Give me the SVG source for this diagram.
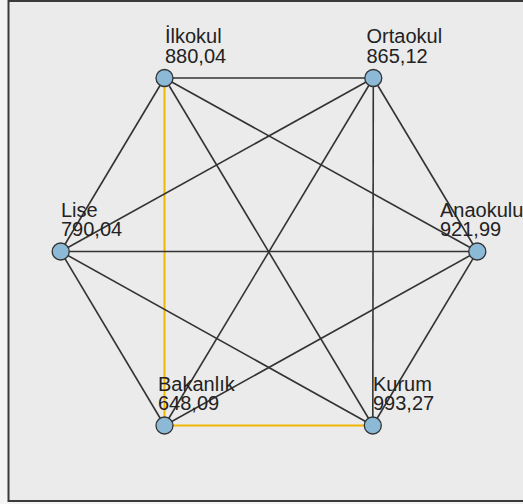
<svg xmlns="http://www.w3.org/2000/svg" width="523" height="504" viewBox="0 0 523 504">
<style>
.e{stroke:#333;stroke-width:1.6;fill:none}
.y{stroke:#f2b705;stroke-width:2;fill:none}
.n{fill:#8bb9d6;stroke:#333;stroke-width:1.3}
text{font-family:"Liberation Sans",Arial,sans-serif;font-size:20px;fill:#222}
</style>
<rect x="0" y="0" width="523" height="504" fill="#f4f4f4"/>
<rect x="8.5" y="1" width="520" height="500" fill="#ebebeb" stroke="#3a3a3a" stroke-width="2"/>
<g id="connectors">
<line class="y" x1="164.5" y1="78" x2="164.5" y2="425.5"/>
<line class="y" x1="164.5" y1="425.5" x2="372.8" y2="425.5"/>
<line class="e" x1="164.5" y1="78" x2="373.3" y2="78"/>
<line class="e" x1="164.5" y1="78" x2="60.7" y2="251.5"/>
<line class="e" x1="164.5" y1="78" x2="372.8" y2="425.5"/>
<line class="e" x1="164.5" y1="78" x2="477.3" y2="251.5"/>
<line class="e" x1="373.3" y1="78" x2="60.7" y2="251.5"/>
<line class="e" x1="373.3" y1="78" x2="477.3" y2="251.5"/>
<line class="e" x1="373.3" y1="78" x2="372.8" y2="425.5"/>
<line class="e" x1="373.3" y1="78" x2="164.5" y2="425.5"/>
<line class="e" x1="60.7" y1="251.5" x2="477.3" y2="251.5"/>
<line class="e" x1="60.7" y1="251.5" x2="164.5" y2="425.5"/>
<line class="e" x1="60.7" y1="251.5" x2="372.8" y2="425.5"/>
<line class="e" x1="477.3" y1="251.5" x2="164.5" y2="425.5"/>
<line class="e" x1="477.3" y1="251.5" x2="372.8" y2="425.5"/>
</g>
<g id="ilkokul"><circle class="n" cx="164.5" cy="78" r="8.5"/><text x="165" y="43">İlkokul</text><text x="165" y="63">880,04</text></g>
<g id="ortaokul"><circle class="n" cx="373.3" cy="78" r="8.5"/><text x="366.5" y="43">Ortaokul</text><text x="366.5" y="63">865,12</text></g>
<g id="anaokulu"><circle class="n" cx="477.3" cy="251.5" r="8.5"/><text x="440" y="216.5">Anaokulu</text><text x="440" y="236">921,99</text></g>
<g id="lise"><circle class="n" cx="60.7" cy="251.5" r="8.5"/><text x="61" y="216.5">Lise</text><text x="61" y="236">790,04</text></g>
<g id="bakanlik"><circle class="n" cx="164.5" cy="425.5" r="8.5"/><text x="158" y="390.5">Bakanlık</text><text x="158" y="410">648,09</text></g>
<g id="kurum"><circle class="n" cx="372.8" cy="425.5" r="8.5"/><text x="373" y="390.5">Kurum</text><text x="373" y="410">993,27</text></g>
</svg>
